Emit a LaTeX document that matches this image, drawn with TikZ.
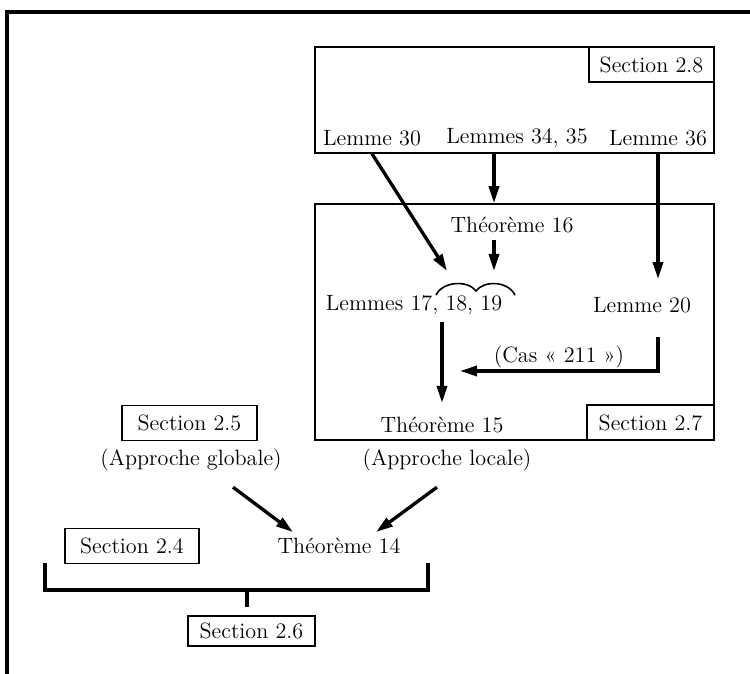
\documentclass[tikz,border=0pt]{standalone}
\usepackage{fontspec}
\usetikzlibrary{arrows.meta, positioning, calc}
\tikzset{
    lbl/.style={
        font=\fontsize{12.6}{15}\selectfont, inner sep=1pt
    },
    secbox/.style={
        rectangle, draw=black, line width=0.9pt, font=\fontsize{12.6}{15}\selectfont,
        minimum height=7mm, inner sep=3pt
    },
    region/.style={
        rectangle, draw=black, line width=0.9pt, inner sep=0pt
    },
    arrow/.style={
        -{Triangle[length=3.4mm, width=2mm]}, line width=1.9pt
    },
    bar/.style={
        line width=1.9pt
    },
    frame/.style={
        line width=2pt
    },
    brace/.style={
        line width=0.9pt
    }
}

\begin{document}
\begin{tikzpicture}[x=0.2mm, y=-0.2mm]

    \useasboundingbox (0,0) rectangle (750,674);
    \draw[frame] (750,12) -- (7,12) -- (7,674);

    % Section 2.8
    \node[region, minimum width=79.8mm, minimum height=21.2mm] (sec28) at (514.5,100) {};
    \node[secbox, anchor=north east, minimum width=25mm] (lab28) at (sec28.north east) {Section 2.8};
    \node[lbl] (lem30)   at (372,138) {Lemme 30};
    \node[lbl] (lem3435) at (517,138) {Lemmes 34, 35};
    \node[lbl] (lem36)   at (658,138) {Lemme 36};

    % Section 2.7
    \node[region, minimum width=79.8mm, minimum height=47.2mm] (sec27) at (514.5,322) {};
    \node[secbox, anchor=south east, minimum width=25.4mm] (lab27) at (sec27.south east) {Section 2.7};
    \node[lbl] (thm16) at (512,225) {Théorème 16};
    \node[lbl] (lem17) at (414,305) {Lemmes 17, 18, 19};
    \node[lbl] (lem20) at (642,305) {Lemme 20};
    \node[lbl] (thm15) at (442,425) {Théorème 15};

    \coordinate (col) at (494,0);
    \coordinate (br1) at (447,271);
    \coordinate (br2) at (494,271);
    \coordinate (casend) at (460,371);
    \draw[brace] (436,295) .. controls (443,281) and (468,280) .. (476,291)
                           .. controls (484,280) and (508,281) .. (515,295);

    \draw[arrow] (lem30 |- sec28.south) -- (br1);
    \draw[arrow] (col |- sec28.south)   -- (col |- sec27.north);
    \draw[arrow, shorten <=1mm] (col |- thm16.south) -- (br2);
    \draw[arrow, shorten >=3.2mm] (lem36 |- sec28.south) -- (lem36 |- lem20.north);
    \draw[arrow, shorten <=4.5mm] (lem36 |- lem20.south) |- node[lbl, above, pos=0.75] (cas) {(Cas « 211 »)} (casend);
    \draw[arrow, shorten <=1mm, shorten >=2.4mm] (thm15 |- lem17.south) -- (thm15.north);

    % approches
    \node[secbox, minimum width=27mm] (sec25) at (189.5,423) {Section 2.5};
    \node[lbl] (glob)  at (191,460) {(Approche globale)};
    \node[lbl] (loc)   at (447,460) {(Approche locale)};
    \node[lbl] (thm14) at (339,546) {Théorème 14};
    \node[secbox, minimum width=26.8mm] (sec24) at (132,546) {Section 2.4};
    \node[secbox, minimum width=25.4mm, minimum height=6mm] (sec26) at (251.5,631) {Section 2.6};

    \draw[arrow] ($(glob.south)+(42,14)$) -- ($(thm14.north)+(-46,-4)$);
    \draw[arrow] ($(loc.south)+(-10,14)$) -- ($(thm14.north)+(37,-4)$);

    \coordinate (stem) at (247,590);
    \draw[bar] (45,563) |- (428,590) -- (428,563);
    \draw[bar, shorten >=1.6mm] (stem) -- (stem |- sec26.north);

\end{tikzpicture}
\end{document}
